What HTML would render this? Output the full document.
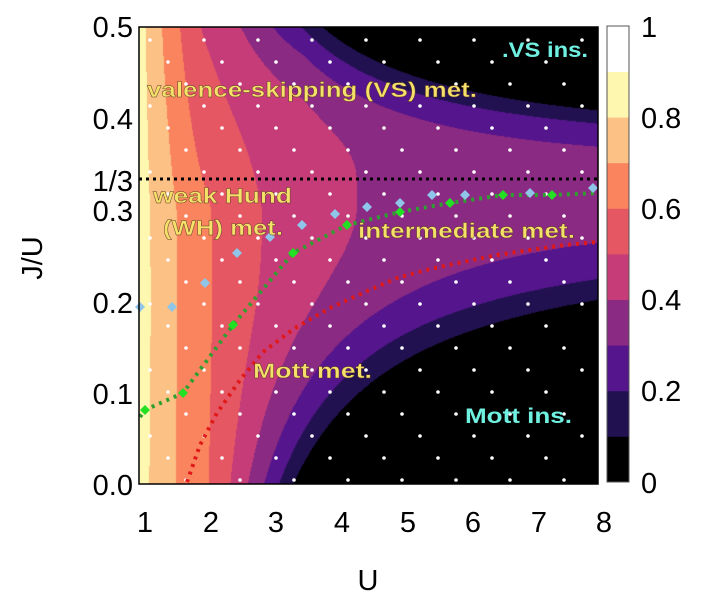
<!DOCTYPE html>
<html><head><meta charset="utf-8"><style>
html,body{margin:0;padding:0;background:#fff;}
#w{position:relative;width:720px;height:593px;overflow:hidden;font-family:"Liberation Sans",sans-serif;}
canvas{position:absolute;left:0;top:0;}
svg{position:absolute;left:0;top:0;}
</style></head><body><div id="w">
<canvas id="c" width="720" height="593"></canvas>
<svg width="720" height="593" xmlns="http://www.w3.org/2000/svg" font-family="Liberation Sans, sans-serif">
<g id="dots" fill="#fff"></g>
<line x1="139" y1="179" x2="598" y2="179" stroke="#000" stroke-width="3" stroke-dasharray="3,4"/>
<polyline points="140,417 145,410 183,393 233,325 293,253 347,225 400,212 450,203 503,195 552,195 597,193" fill="none" stroke="#2fa02f" stroke-width="4" stroke-dasharray="3,5"/>
<polyline points="187,482 200,445 217,413 240,380 263,352 295,328 330,308 365,292 397,278 430,269 463,262 497,255 530,250 565,245 597,242" fill="none" stroke="#e01818" stroke-width="4" stroke-dasharray="3,5"/>
<g id="gd" fill="#22e022"></g>
<g id="bd" fill="#8ec5e8"></g>
<rect x="139" y="27" width="459" height="457" fill="none" stroke="#000" stroke-width="1.5"/>
<g font-weight="bold" font-size="21" fill="#f5e06a" stroke="#5a3a20" stroke-width="0.4">
<text x="147" y="97" textLength="330" lengthAdjust="spacingAndGlyphs">valence-skipping (VS) met.</text>
<text x="153" y="203" textLength="139" lengthAdjust="spacingAndGlyphs">weak Hund</text>
<text x="163" y="235" textLength="120" lengthAdjust="spacingAndGlyphs">(WH) met.</text>
<text x="358" y="238" textLength="217" lengthAdjust="spacingAndGlyphs">intermediate met.</text>
<text x="253" y="378" textLength="119" lengthAdjust="spacingAndGlyphs">Mott met.</text>
</g>
<g font-weight="bold" font-size="21" fill="#6ff0e0">
<text x="465" y="423" textLength="107" lengthAdjust="spacingAndGlyphs">Mott ins.</text>
<text x="502" y="57" textLength="86" lengthAdjust="spacingAndGlyphs">.VS ins.</text>
</g>
<g font-size="29" fill="#000" text-anchor="end">
<text x="133" y="37">0.5</text>
<text x="133" y="129">0.4</text>
<text x="133" y="191">1/3</text>
<text x="133" y="221">0.3</text>
<text x="133" y="313">0.2</text>
<text x="133" y="404">0.1</text>
<text x="133" y="495">0.0</text>
</g>
<g font-size="29" fill="#000" text-anchor="middle">
<text x="145" y="532">1</text><text x="211" y="532">2</text><text x="276" y="532">3</text><text x="342" y="532">4</text>
<text x="408" y="532">5</text><text x="473" y="532">6</text><text x="539" y="532">7</text><text x="604" y="532">8</text>
<text x="368" y="590">U</text>
<text transform="translate(42,258) rotate(-90)">J/U</text>
</g>
<g id="cb"></g>
<rect x="607" y="26" width="22" height="456" fill="none" stroke="#555" stroke-width="1"/>
<g font-size="29" fill="#000">
<text x="641" y="37">1</text><text x="641" y="128">0.8</text><text x="641" y="219">0.6</text>
<text x="641" y="310">0.4</text><text x="641" y="401">0.2</text><text x="641" y="493">0</text>
</g>
</svg>
</div>
<script>
var cols=["#000000","#221150","#55158c","#8a2a82","#c53c78","#e55763","#f9845e","#fcc184","#fdf7b0","#ffffff"];
function rgb(h){return [parseInt(h.substr(1,2),16),parseInt(h.substr(3,2),16),parseInt(h.substr(5,2),16)];}
var rc=cols.map(rgb);
function f(U,J){
 var base=0.33+0.52*Math.exp(-(U-1)/1.7);
 var d=J<0.33?(0.33-J):1.6*(J-0.33);
 var drop=0;
 if(U>2) drop=5.04*Math.pow(d,2.79)*Math.pow(U-2,1.5);
 drop+=0.03*Math.abs(J-0.2);
 var ramp=Math.min(1,(U-1)/0.9)*Math.max(0,1-Math.max(0,U-2)/1.5);
 drop+=0.6*Math.max(0,J-0.3)*ramp;
 return base-drop;
}
var c=document.getElementById('c').getContext('2d');
var x0=139,x1=598,y0=27,y1=484;
var img=c.createImageData(x1-x0,y1-y0);
for(var py=0;py<y1-y0;py++){
 var J=(484-(py+y0))/914;
 for(var px=0;px<x1-x0;px++){
  var U=1+(px+x0-139)/65.57;
  var v=f(U,J);var k=Math.floor(v*10);if(k<0)k=0;if(k>9)k=9;
  var i=(py*(x1-x0)+px)*4;
  img.data[i]=rc[k][0];img.data[i+1]=rc[k][1];img.data[i+2]=rc[k][2];img.data[i+3]=255;
 }
}
c.putImageData(img,x0,y0);
var ns="http://www.w3.org/2000/svg";
var cb=document.getElementById('cb');
for(var k=0;k<10;k++){
 var r=document.createElementNS(ns,'rect');
 r.setAttribute('x',607);r.setAttribute('y',26+(9-k)*45.6);r.setAttribute('width',22);r.setAttribute('height',46);
 r.setAttribute('fill',cols[k]);cb.appendChild(r);
}
var dots=document.getElementById('dots');
for(var row=0;row<21;row++){
 var y=40+row*22;var off=(row%3)*18;
 for(var x=150+off;x<595;x+=54){
  var e=document.createElementNS(ns,'circle');
  e.setAttribute('cx',x);e.setAttribute('cy',y);e.setAttribute('r',1.8);dots.appendChild(e);
 }
}
function dia(g,pts,s){
 var G=document.getElementById(g);
 pts.forEach(function(p){
  var e=document.createElementNS(ns,'polygon');
  e.setAttribute('points',(p[0])+','+(p[1]-s)+' '+(p[0]+s)+','+p[1]+' '+p[0]+','+(p[1]+s)+' '+(p[0]-s)+','+p[1]);
  G.appendChild(e);
 });
}
dia('gd',[[145,410],[183,393],[233,325],[293,253],[347,225],[400,212],[450,203],[503,195],[552,195]],5);
dia('bd',[[140,307],[172,307],[205,283],[237,253],[270,237],[302,225],[335,214],[367,207],[400,203],[432,195],[465,195],[530,193],[593,188]],5);
</script>
</body></html>
